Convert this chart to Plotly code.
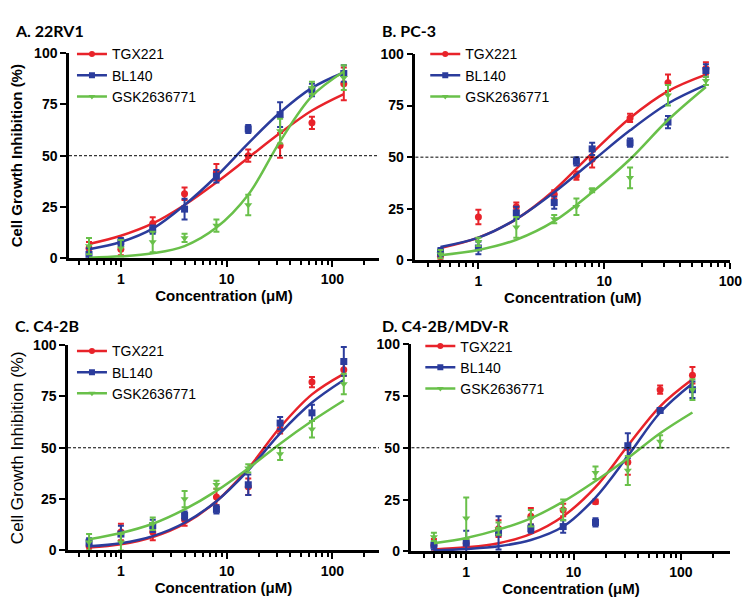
import plotly.graph_objects as go

# concentrations (uM)
conc = [0.5, 1, 2, 4, 8, 16, 32, 64, 128]
conc_pc3 = [0.5, 1, 2, 4, 6, 8, 16, 32, 64]
fit_x_pc3 = [0.5, 1, 2, 4, 8, 16, 32, 64]

drugs = ["TGX221", "BL140", "GSK2636771"]

# A. 22RV1
a_tgx = [5, 4.5, 17, 31.5, 42, 50, 55, 66, 85]
a_tgx_err = [3, 3, 3, 3, 4, 3, 6, 3, 8]
a_bl = [2, 8, 14, 24, 40, 63, 70, 82, 90]
a_bl_err = [3, 2, 2, 5, 3, 2, 6, 3, 4]
a_gsk = [6, 5, 8, 10, 16, 26, 62, 83, 88]
a_gsk_err = [4, 4, 5, 2, 3, 5, 6, 3, 6]
a_tgx_fit = [7, 11, 17, 26, 37, 49, 61, 72, 80]
a_bl_fit = [4.5, 8, 14.5, 26, 40, 56, 71, 83, 90.5]
a_gsk_fit = [0.3, 1, 2.5, 6, 15, 31, 57, 79, 91]

# B. PC-3
b_tgx = [2, 21, 26, 32, 41, 49, 69, 86, 93]
b_tgx_err = [2, 3.5, 2, 2, 2, 4, 2, 4, 3]
b_bl = [4, 6, 23, 28, 48, 54, 57, 67, 92]
b_bl_err = [2, 3, 3, 3, 2, 3, 2, 3, 3]
b_gsk = [3, 9, 16, 20, 26, 34, 40, 80, 87]
b_gsk_err = [2, 2, 5, 2, 4, 1, 5, 5, 2]
b_tgx_fit = [6, 11, 20, 34, 52, 69, 82, 90]
b_bl_fit = [6.5, 11, 20, 33, 48, 63, 76, 85]
b_gsk_fit = [2.5, 5, 10, 19, 33, 49, 68, 84]

# C. C4-2B
c_tgx = [2, 9, 9, 15, 26, 31, 59, 82, 88]
c_tgx_err = [2, 4, 4, 3, 4, 4, 2, 2.5, 3]
c_bl = [4, 8, 12, 17, 20, 32, 62, 67, 92]
c_bl_err = [2, 4, 3, 2, 2, 5, 3, 4, 7]
c_gsk = [4, 4, 13, 25, 32, 40, 47, 59, 81]
c_gsk_err = [4, 4, 3, 4, 2, 2, 3, 4, 5]
c_tgx_fit = [1.5, 3, 6.5, 13, 24, 40, 60, 76, 86]
c_bl_fit = [2, 3.5, 7, 13.5, 24, 39, 57, 72, 83]
c_gsk_fit = [5.5, 8.5, 13, 20, 29, 40, 52, 63, 73]

# D. C4-2B/MDV-R
d_tgx = [3, 4, 11, 17, 20, 24, 43, 78, 85]
d_tgx_err = [3, 2, 4, 4, 3, 1, 6, 2, 4]
d_bl = [3, 4, 9, 11, 12, 14, 51, 68, 78]
d_bl_err = [2, 6, 8, 2, 3, 2, 6, 1, 4]
d_gsk = [7, 16, 11, 16, 20, 38, 39, 53, 78]
d_gsk_err = [2, 10, 3, 4, 5, 3, 7, 3, 5]
d_tgx_fit = [1, 2, 4, 8.5, 17, 31, 51, 70, 83]
d_bl_fit = [0.5, 1.2, 2.5, 5.5, 12, 26, 46, 67, 81]
d_gsk_fit = [4, 6.5, 10.5, 16, 24, 34, 45, 57, 67]

colors = ["#E8232A", "#2B3C9C", "#69C04A"]
symbols = ["circle", "square", "triangle-down"]

panels = [
    dict(title="A. 22RV1", x=conc, fx=conc,
         y=[a_tgx, a_bl, a_gsk], e=[a_tgx_err, a_bl_err, a_gsk_err],
         f=[a_tgx_fit, a_bl_fit, a_gsk_fit],
         xd=[62 / 754, 377 / 754], yd=[1 - 249 / 605, 1 - 38 / 605],
         xr=[-0.49, 2.44], xt="Concentration (\u03bcM)", yt="Cell Growth Inhibition (%)", ybold=True,
         leg=(65, 23), tpos=(5, 15)),
    dict(title="B. PC-3", x=conc_pc3, fx=fit_x_pc3,
         y=[b_tgx, b_bl, b_gsk], e=[b_tgx_err, b_bl_err, b_gsk_err],
         f=[b_tgx_fit, b_bl_fit, b_gsk_fit],
         xd=[414 / 754, 734 / 754], yd=[1 - 251 / 605, 1 - 39 / 605],
         xr=[-0.5, 2.0], xt="Concentration (uM)", yt=None, ybold=True,
         leg=(424, 23), tpos=(378, 15)),
    dict(title="C. C4-2B", x=conc, fx=conc,
         y=[c_tgx, c_bl, c_gsk], e=[c_tgx_err, c_bl_err, c_gsk_err],
         f=[c_tgx_fit, c_bl_fit, c_gsk_fit],
         xd=[61 / 754, 377 / 754], yd=[1 - 549 / 605, 1 - 338 / 605],
         xr=[-0.5, 2.44], xt="Concentration (\u03bcM)", yt="Cell Growth Inhibition (%)", ybold=False,
         leg=(65, 328), tpos=(5, 318)),
    dict(title="D. C4-2B/MDV-R", x=conc, fx=conc,
         y=[d_tgx, d_bl, d_gsk], e=[d_tgx_err, d_bl_err, d_gsk_err],
         f=[d_tgx_fit, d_bl_fit, d_gsk_fit],
         xd=[410 / 754, 734 / 754], yd=[1 - 550 / 605, 1 - 337 / 605],
         xr=[-0.51, 2.46], xt="Concentration (\u03bcM)", yt=None, ybold=True,
         leg=(419, 323), tpos=(378, 318)),
]

fig = go.Figure()
font = "Arial, Liberation Sans, sans-serif"

for i, p in enumerate(panels):
    n = "" if i == 0 else str(i + 1)
    xa, ya = "x" + n, "y" + n
    legname = "legend" + n
    for k in range(3):
        fig.add_trace(go.Scatter(
            x=p["fx"], y=p["f"][k], mode="lines", xaxis=xa, yaxis=ya,
            line=dict(color=colors[k], width=2.5, shape="spline", smoothing=1.0),
            showlegend=False, hoverinfo="skip"))
        fig.add_trace(go.Scatter(
            x=p["x"], y=p["y"][k], mode="markers", xaxis=xa, yaxis=ya,
            marker=dict(color=colors[k], symbol=symbols[k], size=7),
            error_y=dict(type="data", array=p["e"][k], color=colors[k], thickness=2, width=3),
            cliponaxis=False, showlegend=False))
        # legend-only entry (line with marker)
        fig.add_trace(go.Scatter(
            x=[None], y=[None], mode="lines+markers", xaxis=xa, yaxis=ya,
            name=drugs[k], legend=legname,
            line=dict(color=colors[k], width=2.5),
            marker=dict(color=colors[k], symbol=symbols[k], size=6)))

    axis_common = dict(showline=True, linecolor="black", linewidth=2.5, ticks="outside",
                       tickwidth=2, tickcolor="black", ticklen=6, showgrid=False, zeroline=False)
    fig.layout["xaxis" + n] = dict(
        axis_common, type="log", domain=p["xd"], range=p["xr"], anchor=ya,
        dtick=1, tick0=0,
        minor=dict(ticks="outside", ticklen=4, tickwidth=1.5, tickcolor="black", dtick="D1", showgrid=False),
        tickfont=dict(family=font, size=14, color="black", weight="bold"),
        title=dict(text=p["xt"], standoff=2,
                   font=dict(family=font, size=15, color="black", weight="bold")))
    yaxis = dict(
        axis_common, domain=p["yd"], range=[0, 100], anchor=xa,
        tickvals=[0, 25, 50, 75, 100],
        tickfont=dict(family=font, size=14, color="black", weight="bold"))
    if p["yt"]:
        yaxis["title"] = dict(text=p["yt"], standoff=8,
                              font=dict(family=font, size=15 if p["ybold"] else 17, color="black",
                                        weight="bold" if p["ybold"] else "normal"))
    fig.layout["yaxis" + n] = yaxis

    fig.add_shape(type="line", xref=xa + " domain", yref=ya, x0=0, x1=1, y0=50, y1=50,
                  line=dict(color="black", width=1, dash="3px,2px"))
    fig.add_annotation(text=p["title"], xref="paper", yref="paper",
                       x=p["tpos"][0] / 754, y=1 - p["tpos"][1] / 605,
                       xanchor="left", yanchor="middle", showarrow=False,
                       font=dict(family="Lato", size=16, color="black", weight="bold"))
    fig.layout[legname] = dict(
        x=p["leg"][0] / 754, y=1 - p["leg"][1] / 605, xanchor="left", yanchor="top",
        bgcolor="rgba(0,0,0,0)", font=dict(family=font, size=14, color="black"),
        tracegroupgap=0, itemwidth=30)

fig.update_layout(
    width=754, height=605, margin=dict(l=0, r=0, t=0, b=0),
    plot_bgcolor="white", paper_bgcolor="white")

fig.write_html("out.html")
